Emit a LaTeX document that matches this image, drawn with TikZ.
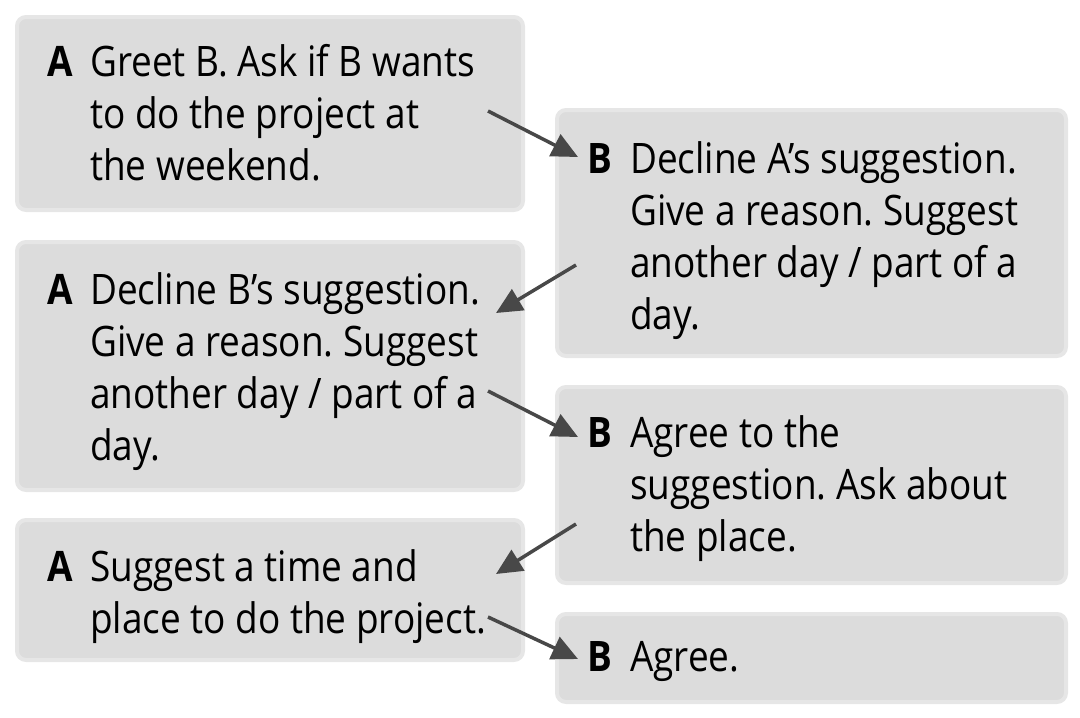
\documentclass[tikz,border=0pt]{standalone}
\usepackage{fontspec}
\setmainfont{Open Sans}[FakeStretch=0.88]
\usetikzlibrary{arrows.meta}
\frenchspacing
\definecolor{boxgray}{RGB}{220,220,220}
\definecolor{boxedge}{RGB}{230,230,230}
\definecolor{arrowgray}{RGB}{72,72,72}
\newcommand{\textlines}[1]{\vtop{\def\nl{\egroup\hbox\bgroup}\hbox\bgroup#1\egroup}}
\tikzset{
  panel/.style={fill=boxgray, draw=boxedge, line width=4pt, rounded corners=9pt},
  speaker/.style={anchor=base west, inner sep=0pt, font=\fontsize{42}{52}\selectfont\bfseries},
  say/.style={anchor=base west, inner sep=0pt, font=\fontsize{42}{52}\selectfont},
  turn/.style={draw=arrowgray, line width=3.5pt, -{Triangle[length=26pt,width=24pt]}, shorten >=0pt}
}
\begin{document}
\begin{tikzpicture}[x=1pt,y=-1pt]
\useasboundingbox (0,0) rectangle (1080,718);
% panels
\draw[panel] (17,17) rectangle (523,210);
\draw[panel] (17,242) rectangle (523,490);
\draw[panel] (17,520) rectangle (523,660);
\draw[panel] (557,110) rectangle (1066,356);
\draw[panel] (557,387) rectangle (1066,583);
\draw[panel] (557,614) rectangle (1066,702);
% A1
\node[speaker] (sa1) at (47,76) {A};
\node[say] (ta1) at (90,76) {\textlines{Greet B. Ask if B wants\nl to do the project at\nl the weekend.}};
% B1
\node[speaker] (sb1) at (587,173) {B};
\node[say] (tb1) at (630,173) {\textlines{Decline A’s suggestion.\nl Give a reason. Suggest\nl another day / part of a\nl day.}};
% A2
\node[speaker] (sa2) at (47,304) {A};
\node[say] (ta2) at (90,304) {\textlines{Decline B’s suggestion.\nl Give a reason. Suggest\nl another day / part of a\nl day.}};
% B2
\node[speaker] (sb2) at (587,447) {B};
\node[say] (tb2) at (630,447) {\textlines{Agree to the\nl suggestion. Ask about\nl the place.}};
% A3
\node[speaker] (sa3) at (47,581) {A};
\node[say] (ta3) at (90,581) {\textlines{Suggest a time and\nl place to do the project.}};
% B3
\node[speaker] (sb3) at (587,671) {B};
\node[say] (tb3) at (630,671) {\textlines{Agree.}};
% arrow ends
\coordinate (a1out) at (488,111);
\coordinate (b1in) at (578,157);
\coordinate (b1out) at (576,265);
\coordinate (a2in) at (496,313);
\coordinate (a2out) at (488,391);
\coordinate (b2in) at (578,437);
\coordinate (b2out) at (576,524);
\coordinate (a3in) at (496,574);
\coordinate (a3out) at (488,617);
\coordinate (b3in) at (578,659);
\draw[turn] (a1out) -- (b1in);
\draw[turn] (b1out) -- (a2in);
\draw[turn] (a2out) -- (b2in);
\draw[turn] (b2out) -- (a3in);
\draw[turn] (a3out) -- (b3in);
\end{tikzpicture}
\end{document}
